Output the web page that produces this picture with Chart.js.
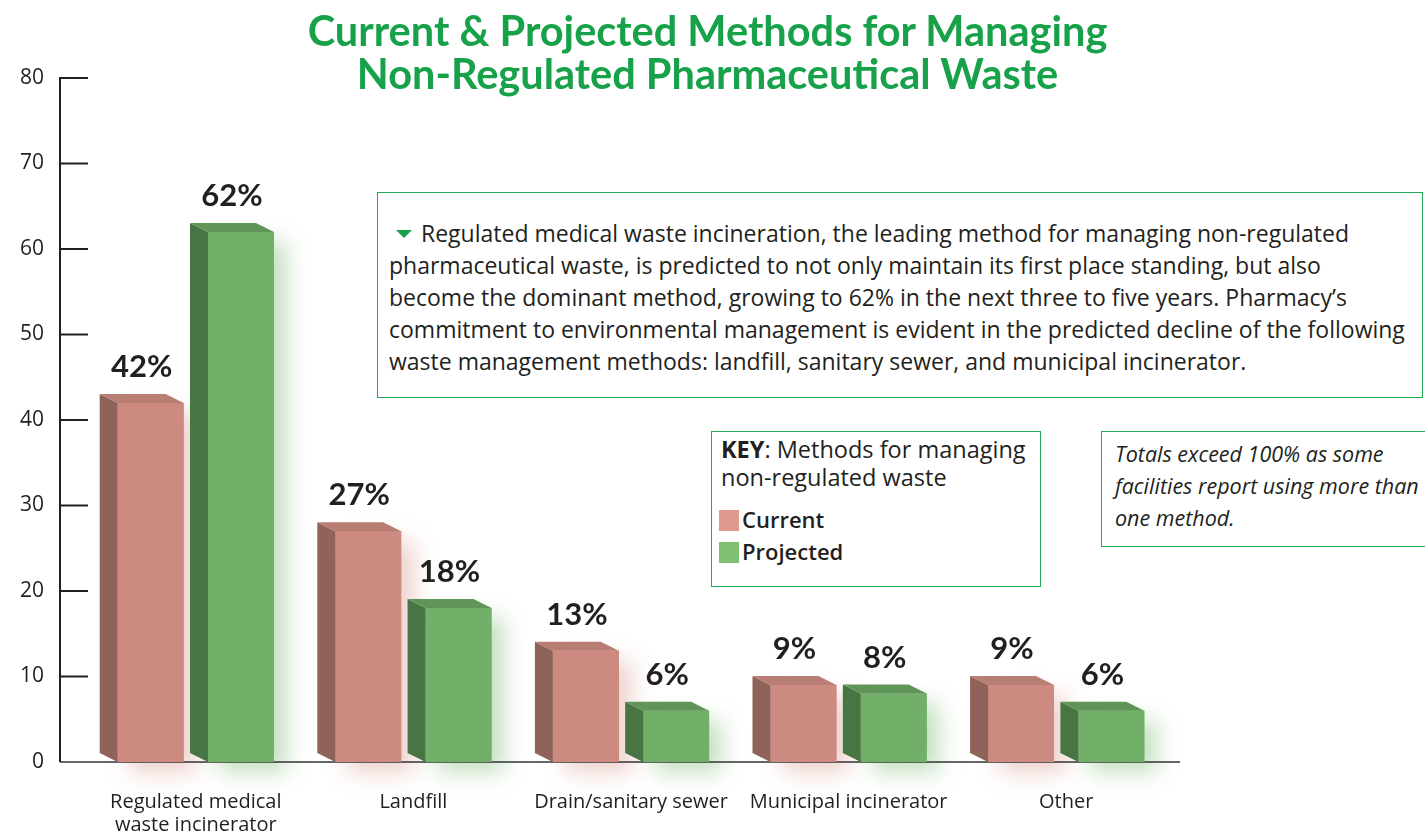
<!DOCTYPE html>
<html>
<head>
<meta charset="utf-8">
<script src="https://cdn.jsdelivr.net/npm/chart.js@4.4.0/dist/chart.umd.min.js"></script>
<style>
  html, body { margin: 0; padding: 0; background: #fff; }
  #wrap { position: relative; width: 1425px; height: 835px; overflow: hidden; font-family: "Open Sans", "Liberation Sans", sans-serif; color: #231f20; }
  #grafico { position: absolute; left: 0; top: 0; }
  .titulo { position: absolute; left: 0; width: 1415px; top: 9px; text-align: center; color: #17a24a; font-family: Lato, sans-serif; font-weight: bold; font-size: 41.5px; line-height: 43px; }
  .caixa { position: absolute; border: 1.5px solid #22aa55; box-sizing: border-box; white-space: nowrap; background: #fff; }
  #texto { left: 377px; top: 192px; width: 1046px; height: 206px; padding: 24px 0 0 11px; font-size: 23px; line-height: 32px; }
  .seta { display: inline-block; width: 0; height: 0; border-left: 8px solid transparent; border-right: 8px solid transparent; border-top: 8px solid #17a24a; margin: 0 9px 0 7px; vertical-align: middle; position: relative; top: -2px; }
  #chave { left: 711px; top: 431px; width: 330px; height: 156px; padding: 3px 0 0 9px; font-size: 23.5px; line-height: 28px; }
  #chave .item { font-weight: 600; font-size: 22px; line-height: 32px; margin-left: -2px; }
  #chave .item span { display: inline-block; width: 20px; height: 21px; margin-right: 3px; vertical-align: -3px; }
  #nota { left: 1101px; top: 431px; width: 340px; height: 116px; padding: 6px 0 0 13px; font-size: 21.5px; line-height: 32px; font-style: italic; }
</style>
</head>
<body>
<div id="wrap">
  <canvas id="grafico" width="1425" height="835"></canvas>
  <div class="titulo">Current &amp; Projected Methods for Managing<br>Non-Regulated Pharmaceutical Waste</div>
  <div class="caixa" id="texto"><span class="seta"></span>Regulated medical waste incineration, the leading method for managing non-regulated<br>pharmaceutical waste, is predicted to not only maintain its first place standing, but also<br>become the dominant method, growing to 62% in the next three to five years. Pharmacy’s<br>commitment to environmental management is evident in the predicted decline of the following<br>waste management methods: landfill, sanitary sewer, and municipal incinerator.</div>
  <div class="caixa" id="chave"><b>KEY</b>: Methods for managing<br>non-regulated waste
    <div style="height:12px"></div>
    <div class="item"><span style="background:#e0998e"></span>Current</div>
    <div class="item"><span style="background:#80c072"></span>Projected</div>
  </div>
  <div class="caixa" id="nota">Totals exceed 100% as some<br>facilities report using more than<br>one method.</div>
</div>
<script>
const categorias = [['Regulated medical', 'waste incinerator'], 'Landfill', 'Drain/sanitary sewer', 'Municipal incinerator', 'Other'];
const atual = [42, 27, 13, 9, 9];
const projetado = [62, 18, 6, 8, 6];
const eixoY = { min: 0, max: 80, passo: 10 };

// cores: frente, lateral, topo, brilho
const cores = [
  { frente: '#cc8a80', lado: '#8f6359', topo: '#b87d73', brilho: 'rgba(215,150,140,0.45)' },
  { frente: '#72b06a', lado: '#487544', topo: '#5f9658', brilho: 'rgba(120,185,110,0.45)' }
];
const prof = { dx: -18, dy: -9 };

const barras3d = {
  id: 'barras3d',
  beforeDatasetsDraw(chart) {
    const ctx = chart.ctx;
    const y = chart.scales.y;
    const base = y.getPixelForValue(0);
    // brilho atras das barras
    chart.data.datasets.forEach((ds, i) => {
      chart.getDatasetMeta(i).data.forEach(bar => {
        const p = bar.getProps(['x', 'y', 'width'], true);
        ctx.save();
        ctx.shadowColor = cores[i].brilho;
        ctx.shadowBlur = 22;
        ctx.shadowOffsetX = 12;
        ctx.shadowOffsetY = 10;
        ctx.fillStyle = cores[i].frente;
        ctx.fillRect(p.x - p.width / 2, p.y, p.width, base - p.y);
        ctx.restore();
      });
    });
    // linha de base
    ctx.save();
    ctx.strokeStyle = '#333';
    ctx.lineWidth = 1.5;
    ctx.beginPath();
    ctx.moveTo(60, base);
    ctx.lineTo(1180, base);
    ctx.stroke();
    ctx.restore();
  },
  afterDatasetsDraw(chart) {
    const ctx = chart.ctx;
    chart.data.datasets.forEach((ds, i) => {
      chart.getDatasetMeta(i).data.forEach((bar, j) => {
        const p = bar.getProps(['x', 'y', 'base', 'width'], true);
        const x0 = p.x - p.width / 2, x1 = p.x + p.width / 2;
        // lateral
        ctx.fillStyle = cores[i].lado;
        ctx.beginPath();
        ctx.moveTo(x0, p.y);
        ctx.lineTo(x0 + prof.dx, p.y + prof.dy);
        ctx.lineTo(x0 + prof.dx, p.base + prof.dy);
        ctx.lineTo(x0, p.base);
        ctx.closePath();
        ctx.fill();
        // topo
        ctx.fillStyle = cores[i].topo;
        ctx.beginPath();
        ctx.moveTo(x0, p.y);
        ctx.lineTo(x1, p.y);
        ctx.lineTo(x1 + prof.dx, p.y + prof.dy);
        ctx.lineTo(x0 + prof.dx, p.y + prof.dy);
        ctx.closePath();
        ctx.fill();
        // rotulo do valor
        ctx.fillStyle = '#231f20';
        ctx.font = 'bold 31px Lato, "Liberation Sans", sans-serif';
        ctx.textAlign = 'center';
        ctx.textBaseline = 'middle';
        ctx.fillText(ds.data[j] + '%', p.x - 9, p.y + prof.dy - 27);
      });
    });
  },
  afterDraw(chart) {
    // eixo y com marcas para dentro
    const ctx = chart.ctx;
    const y = chart.scales.y;
    ctx.save();
    ctx.strokeStyle = '#231f20';
    ctx.lineWidth = 2;
    ctx.beginPath();
    ctx.moveTo(60, y.getPixelForValue(eixoY.max));
    ctx.lineTo(60, y.getPixelForValue(eixoY.min));
    for (let v = eixoY.min + eixoY.passo; v <= eixoY.max; v += eixoY.passo) {
      const py = y.getPixelForValue(v);
      ctx.moveTo(59, py);
      ctx.lineTo(88, py);
    }
    ctx.stroke();
    ctx.restore();
  }
};

const ctx = document.getElementById('grafico').getContext('2d');
new Chart(ctx, {
  type: 'bar',
  data: {
    labels: categorias,
    datasets: [
      { label: 'Current', data: atual, backgroundColor: cores[0].frente },
      { label: 'Projected', data: projetado, backgroundColor: cores[1].frente }
    ]
  },
  options: {
    responsive: false,
    animation: false,
    categoryPercentage: 0.83,
    barPercentage: 0.73,
    layout: { padding: { top: 78, right: 250, bottom: 0, left: 0 } },
    plugins: { legend: { display: false }, tooltip: { enabled: false }, title: { display: false } },
    scales: {
      x: {
        grid: { display: false, drawTicks: false },
        border: { display: false },
        ticks: { color: '#231f20', padding: 29, maxRotation: 0, autoSkip: false, font: { family: '"Open Sans", sans-serif', size: 20, lineHeight: 1.15 } },
        afterFit(s) { s.height = 73; }
      },
      y: {
        min: eixoY.min,
        max: eixoY.max,
        grid: { display: false, drawTicks: false },
        border: { display: false },
        ticks: { stepSize: eixoY.passo, color: '#231f20', padding: 43, font: { family: '"Open Sans", sans-serif', size: 21 } },
        afterFit(s) { s.width = 87; }
      }
    }
  },
  plugins: [barras3d]
});
</script>
</body>
</html>
